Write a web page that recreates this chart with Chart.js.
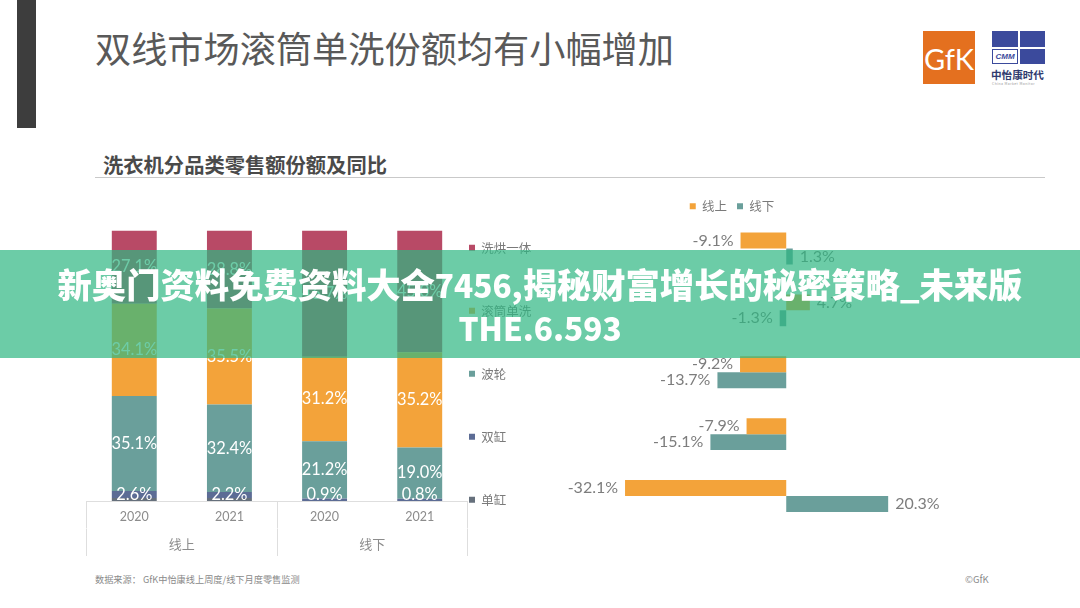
<!DOCTYPE html>
<html lang="zh">
<head>
<meta charset="utf-8">
<script src="https://cdn.jsdelivr.net/npm/chart.js@4/dist/chart.umd.min.js"></script>
<style>
html,body{margin:0;padding:0;width:1080px;height:608px;overflow:hidden;background:#fff;font-family:"Noto Sans CJK SC","Noto Sans",sans-serif}
.abs{position:absolute;white-space:nowrap}
canvas{position:absolute;display:block}
#side{left:17px;top:0;width:19px;height:128px;background:#3d3d3d}
#title{left:95px;top:21px;font-size:36.2px;line-height:52px;color:#595959;font-weight:400}
#sub{left:103px;top:150px;font-size:20.3px;line-height:28px;color:#4a4a4a;font-weight:700}
#rule{left:95px;top:177px;width:950px;height:1px;background:#c9c9c9}
#src{left:95px;top:572px;font-size:9.2px;line-height:14px;color:#8a8a8a}
#cr{left:965px;top:572px;font-size:9.5px;line-height:14px;color:#8a8a8a}
#band{left:0;top:250px;width:1080px;height:108px;background:rgba(45,182,129,.7);z-index:5;color:#fff;text-align:center;font-weight:900;font-size:34.3px;line-height:42px;padding-top:12px;box-sizing:border-box;white-space:normal}
#band span{font-size:31.5px}
#gfk{left:923px;top:31px;width:52px;height:53px;background:#e4701f;color:#fff;font:400 29px/56px Lato,sans-serif;text-align:center;overflow:hidden}
.blk{position:absolute;background:#3b4a9c}
#cmm{left:992px;top:49px;width:26px;height:15px;border:1px solid #3b4a9c;box-sizing:border-box;color:#3b4a9c;font:italic 700 8px/13px "Liberation Sans",sans-serif;text-align:center}
#zh{left:991px;top:68px;font-size:10.6px;line-height:14px;font-weight:700;color:#2f3a6e}
#tiny{left:992px;top:81px;font-size:3.5px;line-height:5px;color:#999;letter-spacing:.4px}
</style>
</head>
<body>
<div class="abs" id="side"></div>
<div class="abs" id="title">双线市场滚筒单洗份额均有小幅增加</div>
<div class="abs" id="sub">洗衣机分品类零售额份额及同比</div>
<div class="abs" id="rule"></div>
<div class="abs" id="gfk">GfK</div>
<div class="blk" style="left:992px;top:31px;width:26px;height:16px"></div>
<div class="blk" style="left:1020px;top:31px;width:25px;height:16px"></div>
<div class="blk" style="left:1020px;top:49px;width:25px;height:15px"></div>
<div class="abs" id="cmm">CMM</div>
<div class="abs" id="zh">中怡康时代</div>
<div class="abs" id="tiny">China Market Monitor</div>
<canvas id="left" width="510" height="356" style="left:60px;top:200px"></canvas>
<canvas id="right" width="464" height="342" style="left:500px;top:185.3px"></canvas>
<div class="abs" id="src">数据来源： GfK中怡康线上周度/线下月度零售监测</div>
<div class="abs" id="cr">©GfK</div>
<div class="abs" id="band">新奥门资料免费资料大全<span>7456,</span>揭秘财富增长的秘密策略_未来版<br><span>THE.6.593</span></div>
<script>
const years = ['2020', '2021', '2020', '2021'];
const channels = ['线上', '线下'];
const singleTub = [1.1, 1.1, 0, 0];
const twinTub = [2.6, 2.2, 0.9, 0.8];
const pulsator = [35.1, 32.4, 21.2, 19.0];
const drumWashOnly = [34.1, 35.5, 31.2, 35.2];
const washDry = [27.1, 28.8, 46.7, 45.0];

const typeRows = ['洗烘一体', '滚筒单洗', '波轮', '双缸', '单缸'];
const onlineYoY = [-9.1, 4.7, -9.2, -7.9, -32.1];
const offlineYoY = [1.3, -1.3, -13.7, -15.1, 20.3];

const RED = '#b84a66', ORANGE = '#f3a33a', TEAL = '#6a9f9b', BLUE = '#5c6c95', GREY = '#66707c';
const LINE = '#dedede', CJK = '"Noto Sans CJK SC"', LAT = 'Lato';

const stackLabels = {
  id: 'stackLabels',
  afterDatasetsDraw(chart) {
    const { ctx } = chart, base = chart.scales.y.bottom;
    ctx.save();
    ctx.font = '16.4px ' + LAT; ctx.fillStyle = '#fff';
    ctx.textAlign = 'center'; ctx.textBaseline = 'middle';
    chart.data.datasets.forEach((ds, i) => {
      if (ds.hideLabels) return;
      chart.getDatasetMeta(i).data.forEach((el, j) => {
        const mid = (el.y + el.base) / 2;
        ctx.fillText(ds.data[j].toFixed(1) + '%', el.x, Math.min(mid, base - 6));
      });
    });
    ctx.restore();
  }
};
const endLabels = {
  id: 'endLabels',
  afterDatasetsDraw(chart) {
    const { ctx } = chart;
    ctx.save();
    ctx.font = '16px ' + LAT; ctx.fillStyle = '#7d7d7d'; ctx.textBaseline = 'middle';
    chart.data.datasets.forEach((ds, i) => {
      chart.getDatasetMeta(i).data.forEach((el, j) => {
        const v = ds.data[j];
        ctx.textAlign = v < 0 ? 'right' : 'left';
        ctx.fillText(v.toFixed(1) + '%', el.x + (v < 0 ? -7 : 7), el.y);
      });
    });
    ctx.restore();
  }
};
const sideLegend = {
  id: 'sideLegend',
  beforeLayout(chart) {
    const lg = chart.legend, fit = lg.fit;
    lg.fit = function () {
      this.maxHeight = 900;
      fit.call(this);
      this.width = 102.7; this.height = 300;
    };
  },
  afterLayout(chart) {
    const lg = chart.legend;
    lg.left = 469.5 - 51 - 60; lg.right = lg.left + 150;
    lg.top = 242 - 51 - 200; lg.bottom = lg.top + 700;
  }
};
const topLegend = {
  id: 'topLegend',
  afterLayout(chart) { chart.legend.top += 5; chart.legend.bottom += 5; }
};

new Chart(document.getElementById('left'), {
  type: 'bar',
  data: {
    labels: years,
    datasets: [
      { label: '单缸', data: singleTub, backgroundColor: GREY, hideLabels: true },
      { label: '双缸', data: twinTub, backgroundColor: BLUE },
      { label: '波轮', data: pulsator, backgroundColor: TEAL },
      { label: '滚筒单洗', data: drumWashOnly, backgroundColor: ORANGE },
      { label: '洗烘一体', data: washDry, backgroundColor: RED }
    ]
  },
  options: {
    responsive: false, animation: false, devicePixelRatio: 1,
    layout: { padding: { left: 26.7, top: 30.5, right: 0, bottom: 0 } },
    datasets: { bar: { barPercentage: 1, categoryPercentage: 0.4722, borderWidth: 0 } },
    plugins: {
      tooltip: { enabled: false },
      legend: {
        position: 'right', align: 'start', reverse: true,
        labels: { boxWidth: 6, boxHeight: 6, padding: 50.5, color: '#7a7a7a', font: { family: CJK, size: 12.5 } }
      }
    },
    scales: {
      y: { stacked: true, min: 0, max: 100, display: false },
      x: {
        stacked: true, offset: true, weight: 0,
        afterFit(s) { s.height = 27.5; },
        border: { display: true, color: LINE },
        grid: {
          offset: true, drawOnChartArea: false, tickLength: 27.5,
          color: c => (c.index === undefined || c.index % 2 === 0) ? LINE : 'rgba(0,0,0,0)'
        },
        ticks: { padding: -19, maxRotation: 0, color: '#8c8c8c', font: { family: LAT, size: 12.5 } }
      },
      x2: {
        type: 'category', labels: channels, position: 'bottom', offset: true, weight: 1,
        afterFit(s) { s.height = 27.5; },
        border: { display: false },
        grid: { offset: true, drawOnChartArea: false, tickLength: 27.5, color: LINE },
        ticks: { padding: -20, maxRotation: 0, color: '#8c8c8c', font: { family: CJK, size: 13 } }
      }
    }
  },
  plugins: [stackLabels, sideLegend]
});

new Chart(document.getElementById('right'), {
  type: 'bar',
  data: {
    labels: typeRows,
    datasets: [
      { label: '线上', data: onlineYoY, backgroundColor: ORANGE },
      { label: '线下', data: offlineYoY, backgroundColor: TEAL }
    ]
  },
  options: {
    indexAxis: 'y', responsive: false, animation: false, devicePixelRatio: 1,
    datasets: { bar: { barPercentage: 1, categoryPercentage: 0.516, borderWidth: 0 } },
    plugins: {
      tooltip: { enabled: false },
      legend: {
        position: 'top', align: 'center',
        labels: { boxWidth: 6, boxHeight: 6, padding: 10, color: '#7a7a7a', font: { family: CJK, size: 12.5 } }
      }
    },
    scales: {
      x: { min: -57, max: 35.4, display: false },
      y: { display: false }
    }
  },
  plugins: [endLabels, topLegend]
});
</script>
</body>
</html>
